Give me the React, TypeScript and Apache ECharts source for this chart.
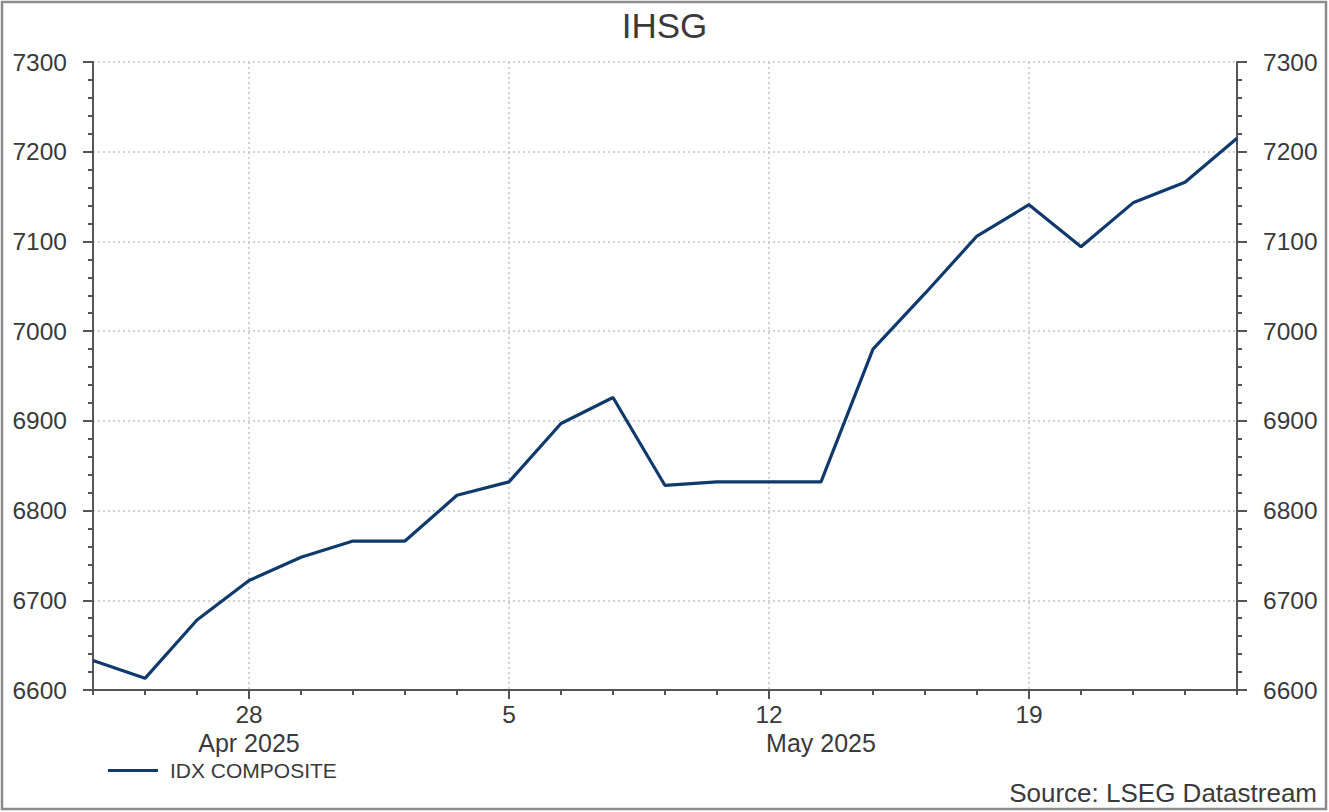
import React, { useEffect, useRef } from "react";
import * as echarts from "echarts";

const dates = [
  "2025-04-23", "2025-04-24", "2025-04-25", "2025-04-28", "2025-04-29", "2025-04-30",
  "2025-05-01", "2025-05-02", "2025-05-05", "2025-05-06", "2025-05-07", "2025-05-08",
  "2025-05-09", "2025-05-12", "2025-05-13", "2025-05-14", "2025-05-15", "2025-05-16",
  "2025-05-19", "2025-05-20", "2025-05-21", "2025-05-22", "2025-05-23",
];

const idxComposite = [
  6633, 6613, 6678, 6722, 6748, 6766,
  6766, 6817, 6832, 6897, 6926, 6828,
  6832, 6832, 6832, 6980, 7042, 7106,
  7141, 7094, 7143, 7166, 7215,
];

const monthLabels: Record<string, string> = {
  "2025-04-28": "Apr 2025",
  "2025-05-13": "May 2025",
};

const yMin = 6600;
const yMax = 7300;
const yStep = 100;

const isMonday = (d: string) => new Date(d + "T00:00:00Z").getUTCDay() === 1;
const dayOf = (d: string) => String(parseInt(d.slice(8, 10), 10));

const FONT = "'Liberation Sans', Arial, sans-serif";
const TXT = "#3a3a3a";
const AX = "#555555";

export default function App() {
  const ref = useRef<HTMLDivElement>(null);

  useEffect(() => {
    if (!ref.current) return;
    const chart = echarts.init(ref.current, undefined, { renderer: "svg" });

    const gridLine = { show: true, lineStyle: { color: "#c4c4c4", width: 1.5, type: [2, 3] as any } };

    const yAxisBase = (position: "left" | "right", showSplit: boolean) => ({
      type: "value",
      position,
      min: yMin,
      max: yMax,
      interval: yStep,
      axisLine: { show: true, lineStyle: { color: AX, width: 2 } },
      axisTick: { show: true, length: 10, lineStyle: { color: AX, width: 2 } },
      minorTick: { show: true, splitNumber: 5, length: 5, lineStyle: { color: AX, width: 2 } },
      axisLabel: {
        color: TXT,
        fontSize: 24.5,
        fontFamily: FONT,
        margin: 26,
        formatter: (v: number) => String(v),
      },
      splitLine: showSplit ? gridLine : { show: false },
    });

    chart.setOption({
      animation: false,
      backgroundColor: "#ffffff",
      title: [
        {
          text: "IHSG",
          left: "center",
          top: 3,
          textStyle: { color: TXT, fontSize: 35, fontWeight: "normal", fontFamily: FONT },
        },
        {
          text: "Source: LSEG Datastream",
          right: 7,
          bottom: 1,
          textStyle: { color: TXT, fontSize: 26, fontWeight: "normal", fontFamily: FONT },
        },
      ],
      legend: {
        left: 103,
        top: 755,
        icon: "rect",
        itemWidth: 50,
        itemHeight: 3,
        textStyle: { color: TXT, fontSize: 21, fontFamily: FONT, padding: [0, 0, 0, 7] },
        data: ["IDX COMPOSITE"],
      },
      grid: { left: 93, right: 92, top: 62, bottom: 122, containLabel: false },
      xAxis: [
        {
          type: "category",
          data: dates,
          boundaryGap: false,
          position: "bottom",
          axisLine: { show: true, onZero: false, lineStyle: { color: AX, width: 2 } },
          axisTick: {
            show: true,
            length: 9,
            interval: (i: number, v: string) => isMonday(v),
            lineStyle: { color: AX, width: 2 },
          },
          axisLabel: {
            interval: (i: number, v: string) => isMonday(v),
            formatter: (v: string) => dayOf(v),
            color: TXT,
            fontSize: 24.5,
            fontFamily: FONT,
            margin: 12,
          },
          splitLine: { ...gridLine, interval: (i: number, v: string) => isMonday(v) },
        },
        {
          type: "category",
          data: dates,
          boundaryGap: false,
          position: "bottom",
          axisLine: { show: false, onZero: false },
          axisTick: { show: true, length: 5, interval: 0, lineStyle: { color: AX, width: 2 } },
          axisLabel: {
            interval: (i: number, v: string) => !!monthLabels[v],
            formatter: (v: string) => monthLabels[v] || "",
            color: TXT,
            fontSize: 25,
            fontFamily: FONT,
            margin: 40,
          },
          splitLine: { show: false },
        },
      ],
      yAxis: [yAxisBase("left", true), yAxisBase("right", false)],
      graphic: [
        {
          type: "rect",
          shape: { x: 2, y: 2, width: 1324, height: 807 },
          style: { fill: "none", stroke: "#8c8c8c", lineWidth: 2.5 },
          silent: true,
        },
      ],
      series: [
        {
          name: "IDX COMPOSITE",
          type: "line",
          xAxisIndex: 0,
          yAxisIndex: 0,
          data: idxComposite,
          showSymbol: false,
          symbol: "none",
          lineStyle: { color: "#0f3a6b", width: 3.2 },
          itemStyle: { color: "#0f3a6b" },
        },
      ],
    });

    return () => chart.dispose();
  }, []);

  return (
    <div
      ref={ref}
      style={{ position: "fixed", left: 0, top: 0, width: 1329, height: 812, background: "#fff" }}
    />
  );
}
